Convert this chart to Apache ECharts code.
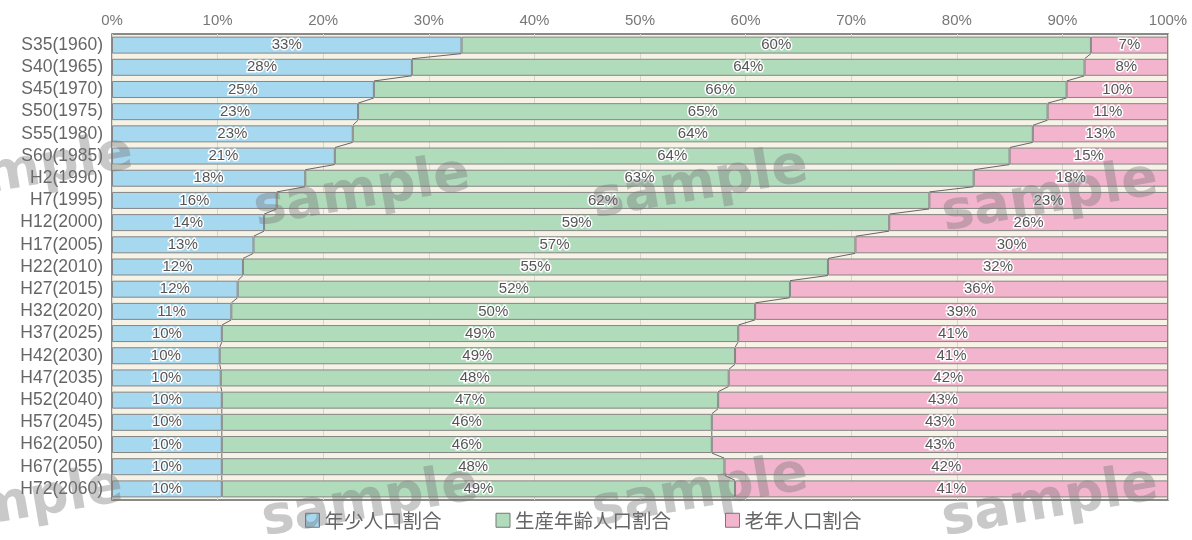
<!DOCTYPE html>
<html>
<head>
<meta charset="utf-8">
<script src="https://cdn.jsdelivr.net/npm/echarts@6/dist/echarts.min.js"></script>
<style>
  html, body { margin: 0; padding: 0; background: #ffffff; }
  #chart { width: 1192px; height: 540px; }
</style>
</head>
<body>
<div id="chart"></div>
<script>
// 年次区分
const categories = [
  'S35(1960)', 'S40(1965)', 'S45(1970)', 'S50(1975)', 'S55(1980)', 'S60(1985)',
  'H2(1990)', 'H7(1995)', 'H12(2000)', 'H17(2005)', 'H22(2010)', 'H27(2015)',
  'H32(2020)', 'H37(2025)', 'H42(2030)', 'H47(2035)', 'H52(2040)', 'H57(2045)',
  'H62(2050)', 'H67(2055)', 'H72(2060)'
];
// 年少人口割合 (%)
const youth = [33.1, 28.4, 24.8, 23.3, 22.8, 21.1, 18.3, 15.6, 14.4, 13.4, 12.4,
  11.9, 11.3, 10.4, 10.2, 10.3, 10.4, 10.4, 10.4, 10.4, 10.4];
// 生産年齢人口割合 (%)
const working = [59.6, 63.7, 65.6, 65.3, 64.4, 63.9, 63.3, 61.8, 59.2, 57.0, 55.4,
  52.3, 49.6, 48.9, 48.8, 48.1, 47.0, 46.4, 46.4, 47.6, 48.6];
// 老年人口割合 (%)
const elderly = [7.3, 7.9, 9.6, 11.4, 12.8, 15.0, 18.4, 22.6, 26.4, 29.6, 32.2,
  35.8, 39.1, 40.7, 41.0, 41.6, 42.6, 43.2, 43.2, 42.0, 41.0];
const seriesNames = ['年少人口割合', '生産年齢人口割合', '老年人口割合'];
const xTicks = [0, 10, 20, 30, 40, 50, 60, 70, 80, 90, 100];

const colors = ['#a6d8f0', '#b0dcbc', '#f3b4cd'];
const BAR_H = 17;

// segment boundaries, joined by thin lines from one bar to the next
const edge1 = youth.map(v => v);
const edge2 = youth.map((v, i) => v + working[i]);
const connectorData = [];
for (let i = 0; i < categories.length - 1; i++) {
  connectorData.push([i, edge1[i], edge1[i + 1], edge2[i], edge2[i + 1]]);
}

const chart = echarts.init(document.getElementById('chart'), null, { renderer: 'canvas' });

const labelStyle = {
  show: true,
  position: 'inside',
  color: '#555',
  fontSize: 15,
  fontFamily: 'Liberation Sans, Arial, sans-serif',
  textBorderColor: '#ffffff',
  textBorderWidth: 3,
  formatter: p => Math.round(p.value) + '%'
};

function barSeries(name, data, color) {
  return {
    name: name,
    type: 'bar',
    stack: 'total',
    barWidth: BAR_H,
    data: data,
    itemStyle: { color: color, borderColor: '#858585', borderWidth: 1 },
    label: labelStyle,
    emphasis: { disabled: true },
    z: 2
  };
}

// watermark text
const wm = [
  { x: 362, y: 193 }, { x: 700, y: 185 }, { x: 1050, y: 198 },
  { x: 25, y: 172 }, { x: 370, y: 503 }, { x: 700, y: 493 },
  { x: 1050, y: 503 }, { x: 15, y: 505 }
];

chart.setOption({
  animation: false,
  backgroundColor: '#ffffff',
  grid: {
    left: 112, right: 24, top: 34, bottom: 40,
    show: true,
    backgroundColor: '#f6f3e6',
    borderColor: '#666',
    borderWidth: 1.5
  },
  legend: {
    bottom: 5,
    left: 300,
    itemWidth: 14,
    itemHeight: 14,
    itemGap: 54,
    icon: 'rect',
    textStyle: { color: '#666', fontSize: 19.5, fontFamily: 'Noto Sans CJK JP' },
    data: seriesNames.map((n, i) => ({ name: n, itemStyle: { color: colors[i], borderColor: '#777', borderWidth: 1 } }))
  },
  xAxis: {
    type: 'value',
    position: 'top',
    min: 0,
    max: 100,
    interval: 10,
    axisLine: { show: false },
    axisTick: { show: false },
    axisLabel: {
      color: '#777',
      fontSize: 15,
      fontFamily: 'Liberation Sans, Arial, sans-serif',
      margin: 6,
      formatter: v => (xTicks.indexOf(v) >= 0 ? v + '%' : '')
    },
    splitLine: { show: true, lineStyle: { color: '#d8d6cc', width: 1 } }
  },
  yAxis: {
    type: 'category',
    inverse: true,
    data: categories,
    axisLine: { show: false },
    axisTick: { show: false },
    axisLabel: {
      interval: 0,
      color: '#666',
      fontSize: 17.5,
      lineHeight: 18,
      fontFamily: 'Liberation Sans, Arial, sans-serif',
      margin: 9
    }
  },
  series: [
    barSeries(seriesNames[0], youth, colors[0]),
    barSeries(seriesNames[1], working, colors[1]),
    barSeries(seriesNames[2], elderly, colors[2]),
    {
      type: 'custom',
      name: 'connectors',
      silent: true,
      z: 3,
      encode: { x: [1, 2, 3, 4], y: 0 },
      data: connectorData,
      renderItem: function (params, api) {
        const i = api.value(0);
        const a1 = api.coord([api.value(1), i]);
        const b1 = api.coord([api.value(2), i + 1]);
        const a2 = api.coord([api.value(3), i]);
        const b2 = api.coord([api.value(4), i + 1]);
        const h = BAR_H / 2;
        const style = { stroke: '#666', lineWidth: 1 };
        return {
          type: 'group',
          children: [
            { type: 'line', shape: { x1: a1[0], y1: a1[1] + h, x2: b1[0], y2: b1[1] - h }, style: style },
            { type: 'line', shape: { x1: a2[0], y1: a2[1] + h, x2: b2[0], y2: b2[1] - h }, style: style }
          ]
        };
      }
    }
  ],
  graphic: wm.map(p => ({
    type: 'text',
    x: p.x,
    y: p.y,
    rotation: 0.17,
    silent: true,
    z: 100,
    style: {
      text: 'sample',
      font: 'bold 54px "DejaVu Sans", sans-serif',
      fill: 'rgba(120,120,120,0.4)',
      align: 'center',
      verticalAlign: 'middle'
    }
  }))
});
</script>
</body>
</html>
